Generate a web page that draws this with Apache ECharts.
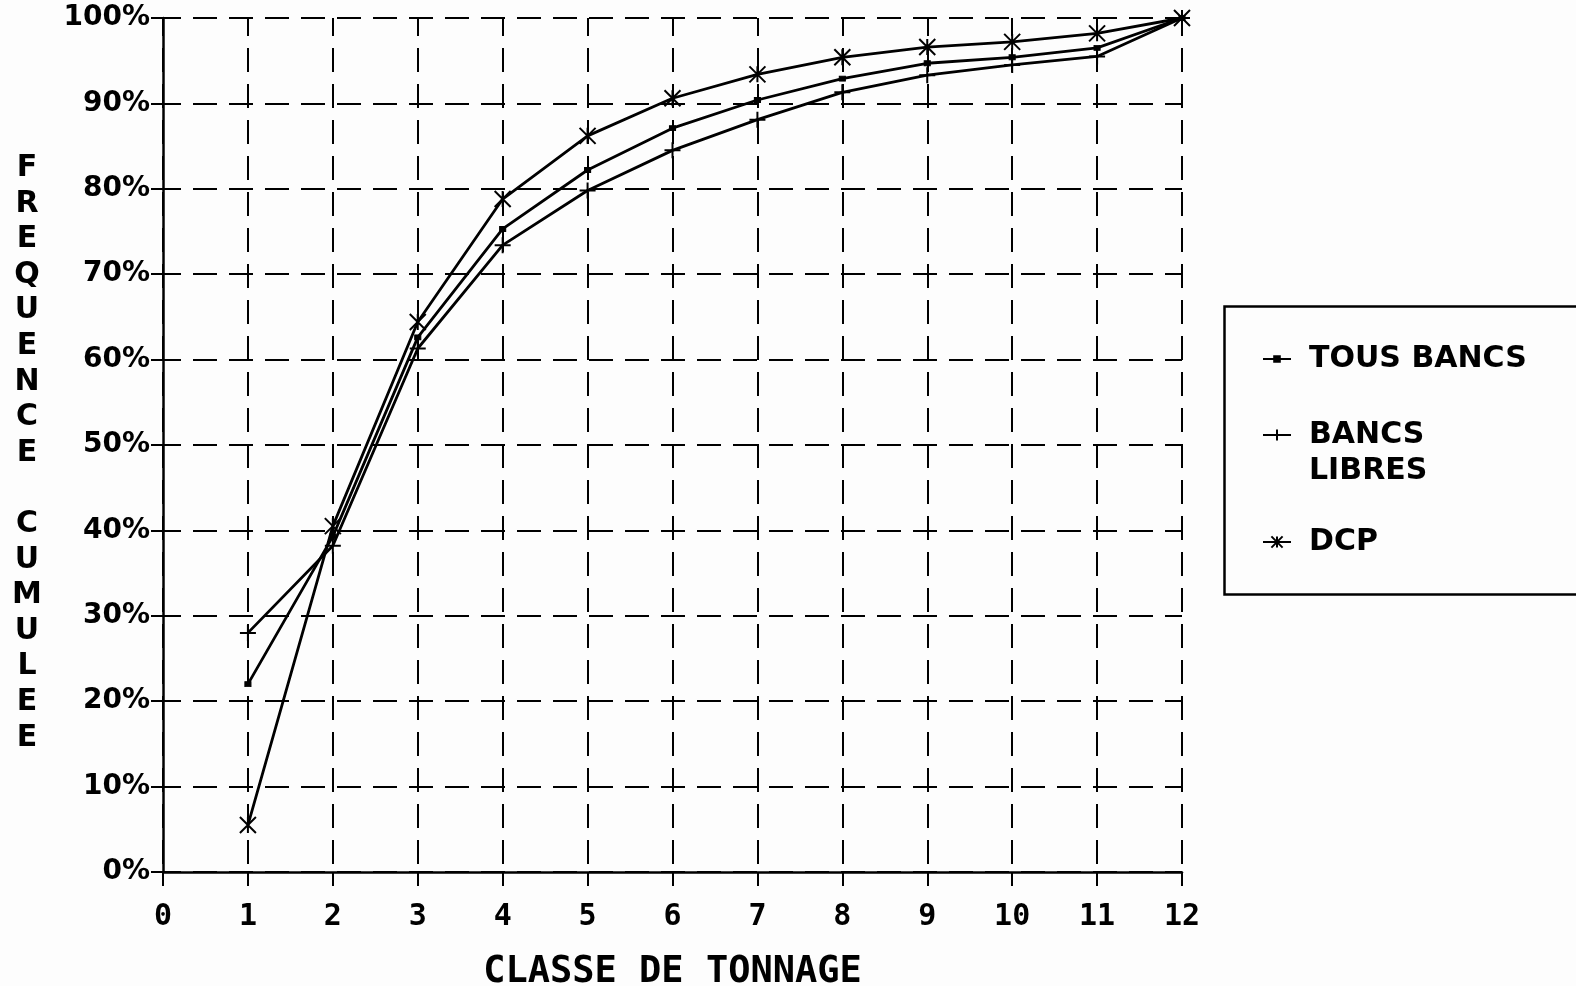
<!DOCTYPE html>
<html>
<head>
<meta charset="utf-8">
<script src="https://cdn.jsdelivr.net/npm/echarts@6/dist/echarts.min.js"></script>
<style>
html,body{margin:0;padding:0;background:#fdfdfd;}
#chart{width:1576px;height:986px;}
</style>
</head>
<body>
<div id="chart"></div>
<script>
const classes = [1, 2, 3, 4, 5, 6, 7, 8, 9, 10, 11, 12];
const tousBancs = [22, 39.3, 62.6, 75.3, 82.2, 87.1, 90.4, 92.9, 94.7, 95.4, 96.5, 100];
const bancsLibres = [28, 38.2, 61.3, 73.4, 79.8, 84.5, 88.1, 91.3, 93.3, 94.5, 95.5, 100];
const dcp = [5.5, 40.5, 64.4, 78.8, 86.2, 90.6, 93.4, 95.4, 96.6, 97.2, 98.2, 100];
const seriesNames = ['TOUS BANCS', 'BANCS LIBRES', 'DCP'];
const xTitle = 'CLASSE DE TONNAGE';
const yTitle = 'FREQUENCE CUMULEE';

const pairs = vals => classes.map((c, i) => [c, vals[i]]);
const chart = echarts.init(document.getElementById('chart'), null, {renderer: 'canvas'});

const lineBase = {
  type: 'line',
  color: '#000',
  lineStyle: {color: '#000', width: 2.8},
  showAllSymbol: true,
  animation: false,
  z: 5
};

const legendBase = {
  orient: 'vertical',
  left: 1262,
  padding: 0,
  itemWidth: 28,
  itemHeight: 14,
  textStyle: {
    fontFamily: 'DejaVu Sans', fontWeight: 'bold', fontSize: 30,
    color: '#000', lineHeight: 36, padding: [0, 0, 0, 13]
  }
};

const option = {
  backgroundColor: '#fdfdfd',
  animation: false,
  grid: {left: 163, right: 394, top: 18, bottom: 114, containLabel: false, outerBoundsMode: 'none'},
  xAxis: {
    type: 'value', min: 0, max: 12, interval: 1,
    name: xTitle, nameLocation: 'middle', nameGap: 82,
    nameTextStyle: {fontFamily: 'DejaVu Sans Mono', fontWeight: 'bold', fontSize: 37, color: '#000'},
    axisLine: {lineStyle: {color: '#000', width: 2.5}},
    axisTick: {show: true, inside: false, length: 14, lineStyle: {color: '#000', width: 2}},
    axisLabel: {color: '#000', fontFamily: 'DejaVu Sans Mono', fontWeight: 'bold', fontSize: 30, margin: 30},
    splitLine: {show: true, lineStyle: {color: '#000', width: 2, type: [24, 12], dashOffset: 6}}
  },
  yAxis: {
    type: 'value', min: 0, max: 100, interval: 10,
    name: '{s| }\n' + yTitle.split('').join('\n'), nameLocation: 'middle', nameGap: 136, nameRotate: 0,
    nameTextStyle: {
      fontFamily: 'DejaVu Sans', fontWeight: 'bold', fontSize: 30, color: '#000', lineHeight: 35.6,
      align: 'center', verticalAlign: 'middle',
      rich: {s: {fontSize: 8, lineHeight: 16}}
    },
    axisLine: {show: true, lineStyle: {color: '#000', width: 2.5}},
    axisTick: {show: true, inside: false, length: 12, lineStyle: {color: '#000', width: 2}},
    axisLabel: {color: '#000', fontFamily: 'DejaVu Sans', fontWeight: 'bold', fontSize: 28, margin: 13, formatter: '{value}%'},
    splitLine: {show: true, lineStyle: {color: '#000', width: 2, type: [24, 12], dashOffset: 6}}
  },
  legend: [
    Object.assign({}, legendBase, {top: 341, itemHeight: 7, data: [seriesNames[0]]}),
    Object.assign({}, legendBase, {top: 381, data: [seriesNames[1]],
      formatter: n => '\n' + n.replace(' ', '\n')}),
    Object.assign({}, legendBase, {top: 524, data: [seriesNames[2]]})
  ],
  graphic: [{
    type: 'rect', left: 1222, top: 304, z: 10,
    shape: {width: 420, height: 288},
    style: {fill: 'none', stroke: '#000', lineWidth: 2.5}
  }],
  series: [
    Object.assign({}, lineBase, {
      name: seriesNames[0], data: pairs(tousBancs),
      symbol: 'rect', symbolSize: [6, 5],
      itemStyle: {color: '#000', borderColor: '#000', borderWidth: 1}
    }),
    Object.assign({}, lineBase, {
      name: seriesNames[1], data: pairs(bancsLibres),
      symbol: 'path://M0,5L10,5M5,0L5,10', symbolSize: 16,
      itemStyle: {color: '#000', borderColor: '#000', borderWidth: 2}
    }),
    Object.assign({}, lineBase, {
      name: seriesNames[2], data: pairs(dcp),
      symbol: 'path://M0,0L10,10M10,0L0,10M5,0L5,10', symbolSize: 16,
      itemStyle: {color: '#000', borderColor: '#000', borderWidth: 2}
    })
  ]
};
chart.setOption(option);
</script>
</body>
</html>
